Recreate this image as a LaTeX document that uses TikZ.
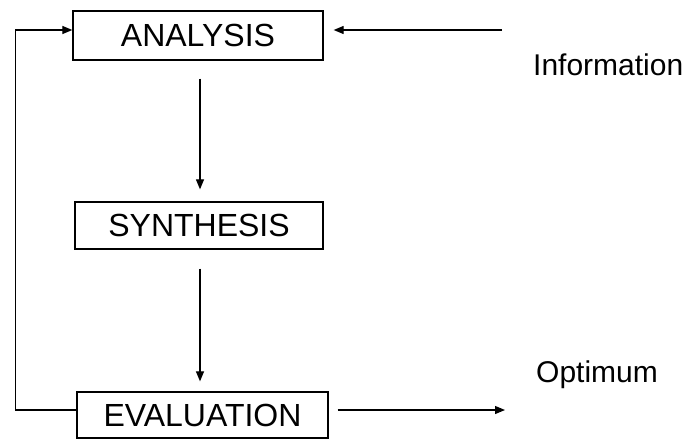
\documentclass[tikz,border=0pt]{standalone}
\usepackage{fontspec}
\setmainfont{Liberation Sans}
\usetikzlibrary{arrows.meta}
\tikzset{
  blk/.style={draw, line width=1.3pt, inner sep=0pt, font=\fontsize{32}{36}\selectfont},
  lbl/.style={inner sep=0pt, anchor=base west, font=\fontsize{30}{34}\selectfont},
  arr/.style={line width=1.2pt, -{Triangle[length=10pt,width=8pt]}},
  ln/.style={line width=1.2pt}
}
\begin{document}
\begin{tikzpicture}[x=1pt,y=-1pt]
\useasboundingbox (0,0) rectangle (686,439);
\node[blk, minimum width=250pt, minimum height=49pt] (a) at (198,35.5) {ANALYSIS};
\node[blk, minimum width=248pt, minimum height=47pt] (s) at (199,225.5) {SYNTHESIS};
\node[blk, minimum width=251pt, minimum height=46pt] (e) at (202.5,415) {EVALUATION};
\node[lbl] (info) at (533,75) {Information};
\node[lbl] (opt) at (536,382) {Optimum};
\coordinate (inf) at (502,30);
\coordinate (out) at (505,410);
% main flow
\draw[arr, shorten <=18pt, shorten >=12pt] (a.south -| 200,0) -- (s.north -| 200,0);
\draw[arr, shorten <=19pt, shorten >=10pt] (s.south -| 200,0) -- (e.north -| 200,0);
% feedback
\draw[arr] ([yshift=5pt]e.west) -- ++(-61,0) |- ([yshift=5.5pt]a.west);
% information input
\draw[arr, shorten >=10pt] (inf) -- ([yshift=5.5pt]a.east);
% output
\draw[arr, shorten <=9pt] ([yshift=5pt]e.east) -- (out);
\end{tikzpicture}
\end{document}
